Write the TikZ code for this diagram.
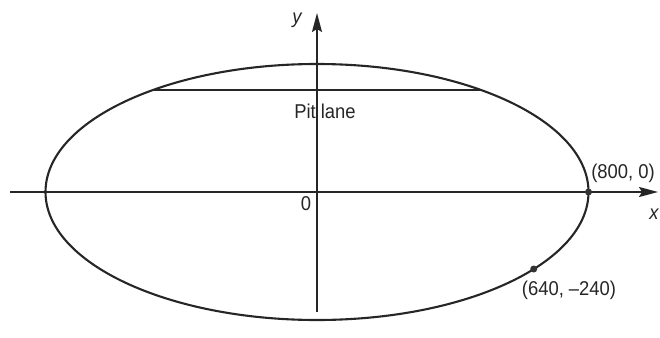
\documentclass[tikz,border=0pt]{standalone}
\usepackage{fontspec}
\setmainfont{Liberation Sans}[FakeStretch=0.92]
\usetikzlibrary{arrows.meta}
\begin{document}
\begin{tikzpicture}[x=1pt,y=-1pt,
  axis/.style={line width=1.8pt,color=black!85,-{Stealth[length=19pt,width=10pt,inset=3pt]}},
  curve/.style={line width=2.1pt,color=black!85},
  lbl/.style={font=\fontsize{20}{22}\selectfont,text=black!85,inner sep=0pt},
  dot/.style={circle,fill=black!80,inner sep=0pt,minimum size=7pt}]
\useasboundingbox (0,0) rectangle (660,337);
\coordinate (O) at (317,192);
\coordinate (xs) at (10,192);
\coordinate (xe) at (658,192);
\coordinate (ys) at (317,312);
\coordinate (ye) at (317,13);
\draw[curve] (O) ellipse [x radius=271.5pt, y radius=128pt];
\draw[axis] (xs) -- (xe);
\draw[axis] (ys) -- (ye);
\coordinate (pl) at (152,90);
\coordinate (pr) at (481,90);
\draw[curve,line width=1.8pt] (pl) -- (pr);
\node[dot] (p1) at (588.5,192) {};
\node[dot] (p2) at (533.7,269) {};
\node[lbl] (ylab) at (297,20) {\itshape y};
\node[lbl] (xlab) at (654,214) {\itshape x};
\node[lbl] (pit) at (325,111) {Pit lane};
\node[lbl] (zero) at (306,204) {0};
\node[lbl] (l1) at (623,173) {(800, 0)};
\node[lbl] (l2) at (569,290) {(640, –240)};
\end{tikzpicture}
\end{document}
